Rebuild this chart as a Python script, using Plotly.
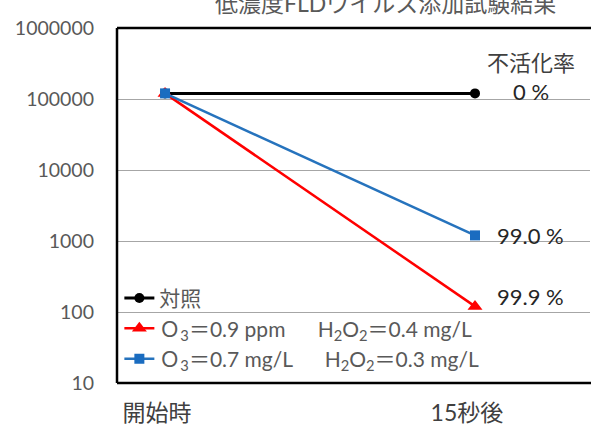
import math
import plotly.graph_objects as go

# Categories and measured titres (log scale)
categories = ["開始時", "15秒後"]
x_pos = [0, 1]
control_vals = [1.2e5, 1.2e5]
red_vals = [1.2e5, 1.2e2]
blue_vals = [1.2e5, 1.2e3]

GAP = "\u00a0" * 6
series_names = [
    "対照",
    "Ｏ<sub>3</sub>＝0.9 ppm" + GAP + "H<sub>2</sub>O<sub>2</sub>＝0.4 mg/L",
    "Ｏ<sub>3</sub>＝0.7 mg/L" + GAP + "H<sub>2</sub>O<sub>2</sub>＝0.3 mg/L",
]

y_tickvals = [10, 100, 1000, 10000, 100000, 1000000]
y_ticktext = ["10", "100", "1000", "10000", "100000", "1000000"]

rate_header = "不活化率"
rate_labels = ["0 %", "99.0 %", "99.9 %"]
rate_values = [control_vals[1], blue_vals[1], red_vals[1]]

title_text = "低濃度FLDウイルス添加試験結果"

FONT = "Lato, 'Noto Sans CJK JP', sans-serif"

fig = go.Figure()
fig.add_trace(go.Scatter(
    x=x_pos, y=control_vals, name=series_names[0], mode="lines+markers",
    line=dict(color="black", width=3),
    marker=dict(symbol="circle", size=10, color="black"),
))
fig.add_trace(go.Scatter(
    x=x_pos, y=red_vals, name=series_names[1], mode="lines+markers",
    line=dict(color="#ff0000", width=2.5),
    marker=dict(symbol="triangle-up", size=13, color="#ff0000"),
))
fig.add_trace(go.Scatter(
    x=x_pos, y=blue_vals, name=series_names[2], mode="lines+markers",
    line=dict(color="#2673bd", width=2.5),
    marker=dict(symbol="square", size=10, color="#1a6cc0"),
))
# Transparent carrier so the category-label axis is rendered
fig.add_trace(go.Scatter(
    x=x_pos, y=control_vals, xaxis="x2", yaxis="y", mode="markers",
    marker=dict(size=1, opacity=0), showlegend=False, hoverinfo="skip",
))

# Label placement: x in data units, vertical nudge in decades above the end value
label_x = 1.18
label_nudge = [0.02, 0.0, 0.146]

annotations = [
    dict(x=label_x, y=5.51, xref="x", yref="y", text=rate_header, showarrow=False,
         xanchor="center", yanchor="middle", font=dict(size=22, color="#404040", family=FONT)),
]
for lab, val, dy in zip(rate_labels, rate_values, label_nudge):
    annotations.append(dict(
        x=label_x, y=math.log10(val) + dy, xref="x", yref="y", text=lab, showarrow=False,
        xanchor="center", yanchor="middle", font=dict(size=22, color="#262626", family=FONT)))

annotations.append(dict(
    x=0.567, y=1.07, xref="paper", yref="paper", text=title_text, showarrow=False,
    xanchor="center", yanchor="middle", font=dict(size=23, color="#595959", family=FONT)))

# Frame: left, top and bottom borders
shapes = [
    dict(type="line", xref="paper", yref="paper", x0=0, x1=0, y0=0, y1=1,
         line=dict(color="black", width=2.5)),
    dict(type="line", xref="paper", yref="paper", x0=0, x1=1.01, y0=1, y1=1,
         line=dict(color="black", width=2.5)),
    dict(type="line", xref="paper", yref="paper", x0=0, x1=1.01, y0=0, y1=0,
         line=dict(color="black", width=2.5)),
]

X_RANGE = [-0.155, 1.371]
LABEL_SHIFT = 0.026  # category labels sit slightly left of the markers

fig.update_layout(
    width=591, height=427,
    margin=dict(l=117, r=1, t=28, b=44),
    paper_bgcolor="white", plot_bgcolor="white",
    font=dict(family=FONT, color="#595959", size=19),
    showlegend=True,
    legend=dict(x=0.005, y=0.296, xanchor="left", yanchor="top",
                bgcolor="rgba(0,0,0,0)", font=dict(size=21, color="#595959", family=FONT),
                tracegroupgap=0, itemwidth=30),
    annotations=annotations,
    shapes=shapes,
    xaxis=dict(range=X_RANGE, showticklabels=False, showgrid=False,
               zeroline=False, showline=False, ticks=""),
    xaxis2=dict(range=[X_RANGE[0] + LABEL_SHIFT, X_RANGE[1] + LABEL_SHIFT],
                overlaying="x", side="bottom", anchor="y",
                tickvals=x_pos, ticktext=categories,
                showgrid=False, zeroline=False, showline=False, ticks="",
                tickfont=dict(size=23, color="#404040", family=FONT),
                ticklabelstandoff=14),
)
fig.update_yaxes(
    type="log", range=[1, 6], tickvals=y_tickvals, ticktext=y_ticktext,
    showgrid=True, gridcolor="#a6a6a6", gridwidth=1.2, zeroline=False, showline=False,
    tickfont=dict(size=19.5, color="#595959", family=FONT),
    ticks="", ticklabelstandoff=22,
)

fig.write_html("out.html")
